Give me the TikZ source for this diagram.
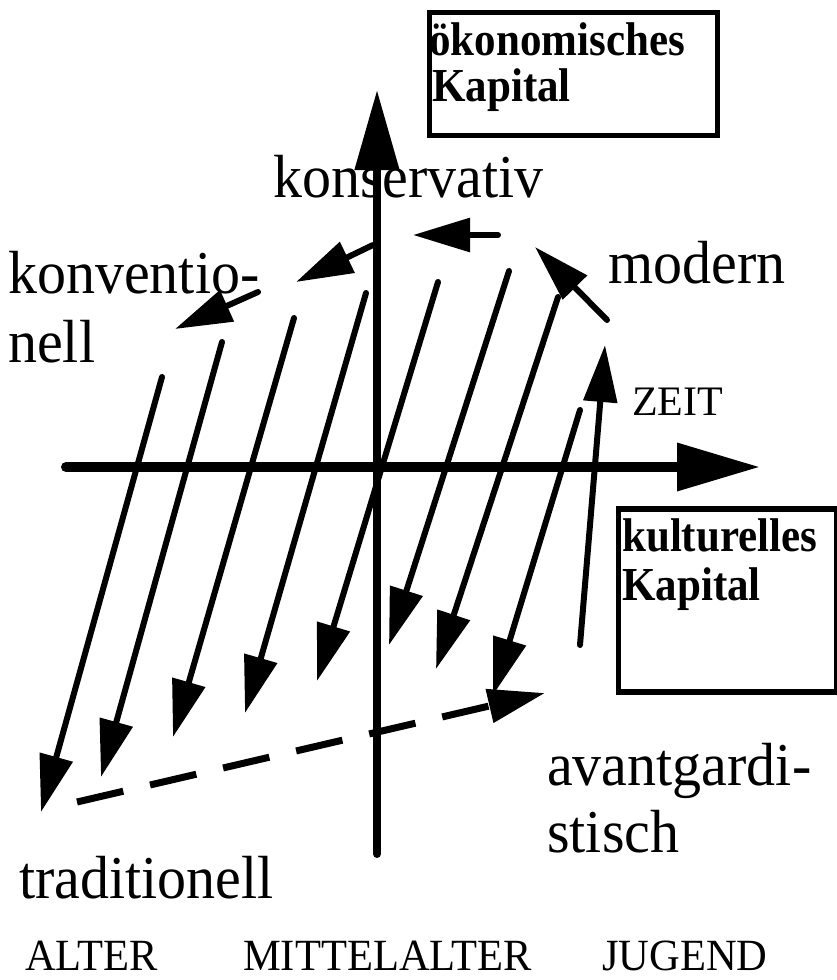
\documentclass[tikz,border=0pt]{standalone}
\usepackage{graphicx}
\usepackage{fontspec}
\setmainfont{Liberation Serif}
\usetikzlibrary{arrows.meta}
\newcommand\tallA[1]{\scalebox{1}[1.05]{#1}}
\newcommand\tallB[1]{\scalebox{1}[1.1]{#1}}
\begin{document}
\begin{tikzpicture}[x=1pt,y=-1pt,
  lbl/.style={inner sep=0pt, anchor=base west, font=\fontsize{58}{68}\selectfont},
  sm/.style={inner sep=0pt, anchor=base west, font=\fontsize{42.5}{50}\selectfont},
  bx/.style={inner sep=0pt, anchor=base west, font=\fontsize{43}{50}\selectfont\bfseries},
  frame/.style={draw, line width=5.5pt, inner sep=0pt, anchor=north west},
  flow/.style={line width=6pt, line cap=round, -{Triangle[length=57pt,width=33pt]}},
  axisv/.style={line width=8pt, line cap=round, -{Triangle[length=80pt,width=43pt]}},
  axish/.style={line width=10pt, line cap=round, -{Triangle[length=83pt,width=46pt]}},
  dashflow/.style={line width=7pt, dash pattern=on 47.5pt off 27.5pt, -{Triangle[length=57pt,width=33pt]}},
]
\useasboundingbox (0,0) rectangle (836,980);

% boxes
\node[frame, minimum width=288pt, minimum height=123pt] (okbox) at (426.5,9.5) {};
\node[bx] (ok1) at (429,55) {\tallB{ökonomisches}};
\node[bx] (ok2) at (432,101) {\tallB{Kapital}};
\node[frame, minimum width=218pt, minimum height=183pt] (kubox) at (615.5,506) {};
\node[bx] (ku1) at (622,551) {\tallB{kulturelles}};
\node[bx] (ku2) at (622,600) {\tallB{Kapital}};

% labels
\node[lbl] (kons) at (273,197) {\tallA{konservativ}};
\node[lbl] (konv1) at (8,293) {\tallA{konventio-}};
\node[lbl] (konv2) at (8,362) {\tallA{nell}};
\node[lbl] (mod) at (608,283) {\tallA{modern}};
\node[sm, font=\fontsize{42}{50}\selectfont] (zeit) at (632,415) {ZEIT};
\node[lbl] (av1) at (547,785) {\tallA{avantgardi-}};
\node[lbl] (av2) at (547,852) {\tallA{stisch}};
\node[lbl] (trad) at (19,898) {\tallA{traditionell}};
\node[sm] (alt) at (25,970) {\tallA{ALTER}};
\node[sm] (mit) at (243,970) {\tallA{MITTELALTER}};
\node[sm] (jug) at (602,970) {\tallA{JUGEND}};

% coordinates
\coordinate (vb) at (377,854); \coordinate (vt) at (377,90);
\coordinate (hl) at (66,467);  \coordinate (hr) at (760,467);
\coordinate (t1) at (162,377); \coordinate (h1) at (41,812);
\coordinate (t2) at (222,342); \coordinate (h2) at (101,777);
\coordinate (t3) at (294,318); \coordinate (h3) at (173,737);
\coordinate (t4) at (366,293); \coordinate (h4) at (245,713);
\coordinate (t5) at (438,282); \coordinate (h5) at (317,681);
\coordinate (t6) at (509,271); \coordinate (h6) at (389,645);
\coordinate (t7) at (558,297); \coordinate (h7) at (436,669);
\coordinate (t8) at (580,410); \coordinate (h8) at (493,695);
\coordinate (ht) at (498,235); \coordinate (hh) at (413,235);
\coordinate (k1t) at (373,245); \coordinate (k1h) at (296,282);
\coordinate (k2t) at (258,292); \coordinate (k2h) at (175,329);
\coordinate (mt) at (607,320); \coordinate (mh) at (535,247);
\coordinate (zt) at (580,645); \coordinate (zh) at (605,345);
\coordinate (dt) at (77,802); \coordinate (dh) at (545,693);

% axes
\draw[axisv] (vb) -- (vt);
\draw[axish] (hl) -- (hr);

% flows
\foreach \i in {1,...,8} { \draw[flow] (t\i) -- (h\i); }
\draw[flow] (ht) -- (hh);
\draw[flow] (k1t) -- (k1h);
\draw[flow] (k2t) -- (k2h);
\draw[flow] (mt) -- (mh);
\draw[flow] (zt) -- (zh);
\draw[dashflow] (dt) -- (dh);
\end{tikzpicture}
\end{document}
